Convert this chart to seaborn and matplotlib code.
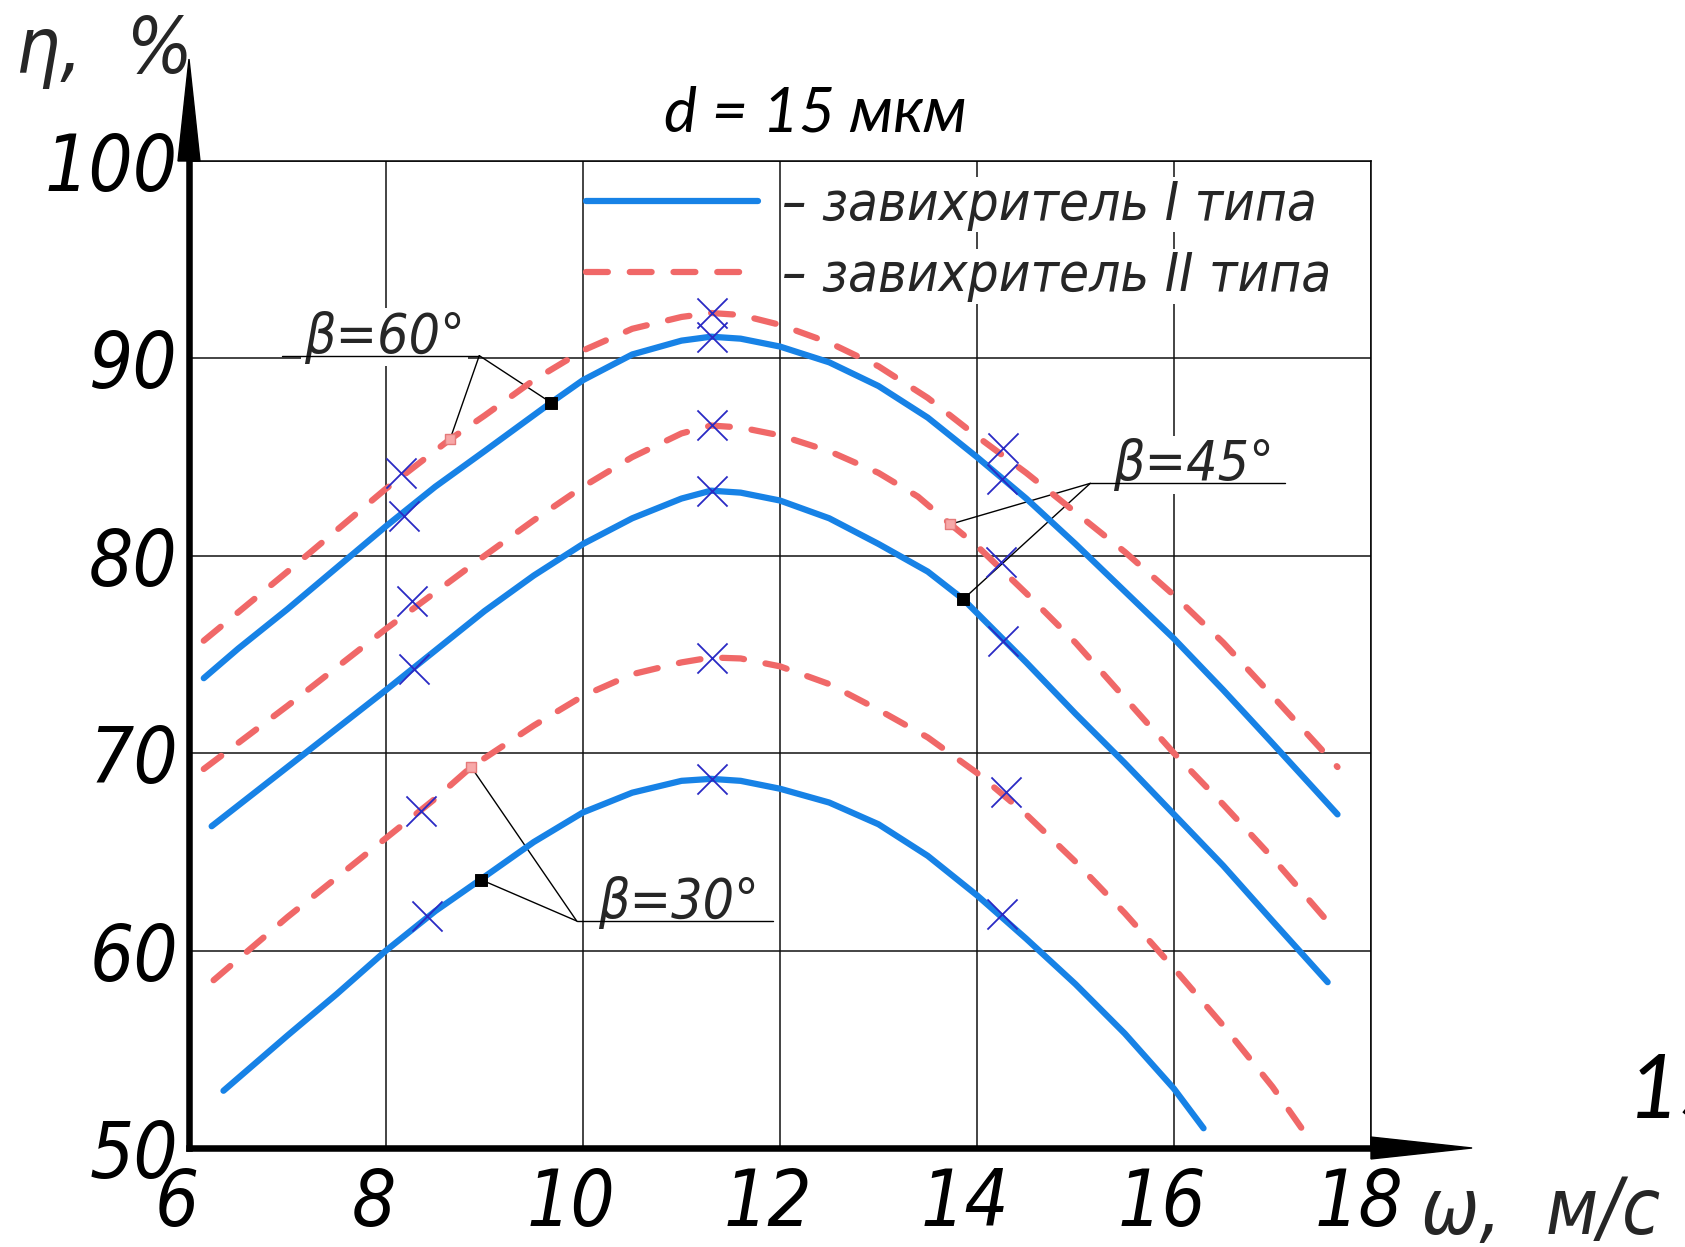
import matplotlib
matplotlib.use("Agg")
import matplotlib.pyplot as plt
import seaborn as sns
import pandas as pd
from matplotlib import font_manager as fm
from matplotlib.font_manager import FontProperties
from matplotlib.textpath import TextPath
from matplotlib.lines import Line2D
from matplotlib.patches import Polygon
from matplotlib.transforms import ScaledTranslation

# ---------------- data: efficiency vs. gas velocity ----------------
# swirler type I (solid) and type II (dashed), three blade angles each
w_60_I = [6.15, 6.5, 7.0, 7.5, 8.0, 8.5, 9.0, 9.675, 10.0, 10.5, 11.0, 11.3, 11.6, 12.0,
          12.5, 13.0, 13.5, 14.0, 14.5, 15.0, 15.5, 16.0, 16.5, 17.0, 17.66]
eta_60_I = [73.8, 75.3, 77.3, 79.4, 81.5, 83.5, 85.3, 87.76, 88.9, 90.2, 90.9, 91.1, 91.0, 90.6,
            89.8, 88.6, 87.0, 85.0, 82.9, 80.6, 78.2, 75.8, 73.2, 70.5, 66.9]

w_60_II = [6.15, 7.0, 8.0, 8.65, 9.0, 9.5, 10.0, 10.5, 11.0, 11.3, 11.6, 12.0, 12.5, 13.0,
           13.5, 14.0, 14.5, 15.0, 15.5, 16.0, 16.5, 17.0, 17.66]
eta_60_II = [75.7, 79.2, 83.4, 85.9, 87.1, 88.9, 90.4, 91.5, 92.1, 92.3, 92.2, 91.7, 90.8, 89.6,
             88.0, 86.05, 84.2, 82.2, 80.2, 78.0, 75.6, 72.9, 69.3]

w_45_I = [6.23, 7.0, 8.0, 9.0, 9.5, 10.0, 10.5, 11.0, 11.3, 11.6, 12.0, 12.5, 13.0, 13.5,
          13.86, 14.0, 14.5, 15.0, 15.5, 16.0, 16.5, 17.0, 17.56]
eta_45_I = [66.3, 69.3, 73.2, 77.2, 79.0, 80.6, 81.9, 82.9, 83.3, 83.2, 82.8, 81.9, 80.6, 79.2,
            77.8, 77.1, 74.6, 72.0, 69.5, 66.9, 64.3, 61.5, 58.4]

w_45_II = [6.15, 7.0, 8.0, 9.0, 9.5, 10.0, 10.5, 11.0, 11.3, 11.6, 12.0, 12.5, 13.0, 13.4,
           13.73, 14.0, 14.5, 15.0, 15.5, 16.0, 16.5, 17.0, 17.66]
eta_45_II = [69.2, 72.4, 76.3, 80.0, 81.8, 83.5, 85.0, 86.2, 86.6, 86.5, 86.1, 85.3, 84.2, 83.0,
             81.6, 80.5, 78.1, 75.6, 72.8, 70.0, 67.4, 64.7, 60.9]

w_30_I = [6.35, 7.0, 7.5, 8.0, 8.5, 8.96, 9.5, 10.0, 10.5, 11.0, 11.3, 11.6, 12.0, 12.5,
          13.0, 13.5, 14.0, 14.5, 15.0, 15.5, 16.0, 16.3]
eta_30_I = [52.9, 55.7, 57.8, 60.0, 62.0, 63.6, 65.5, 67.0, 68.0, 68.6, 68.7, 68.6, 68.2, 67.5,
            66.4, 64.8, 62.8, 60.6, 58.3, 55.8, 53.0, 51.0]

w_30_II = [6.25, 7.0, 7.5, 8.0, 8.5, 8.865, 9.5, 10.0, 10.5, 11.0, 11.3, 11.6, 12.0, 12.5,
           13.0, 13.5, 14.0, 14.5, 15.0, 15.5, 16.0, 16.5, 17.0, 17.31]
eta_30_II = [58.5, 61.7, 63.7, 65.7, 67.7, 69.3, 71.4, 72.9, 74.0, 74.6, 74.85, 74.8, 74.4, 73.5,
             72.2, 70.8, 69.0, 66.9, 64.5, 61.9, 59.1, 56.2, 53.1, 50.9]

# measured (experimental) points
exp_w = [8.15, 8.18, 8.26, 8.28, 8.36, 8.42,
         11.31, 11.31, 11.31, 11.31, 11.31, 11.31,
         14.26, 14.25, 14.24, 14.26, 14.29, 14.25]
exp_eta = [84.2, 82.0, 77.7, 74.26, 67.06, 61.73,
           92.31, 91.08, 86.62, 83.28, 74.84, 68.67,
           85.45, 83.87, 79.7, 75.66, 68.03, 61.85]

x_ticks = [6, 8, 10, 12, 14, 16, 18]
y_ticks = [50, 60, 70, 80, 90, 100]
legend_labels = ["– завихритель I типа", "– завихритель II типа"]
beta_labels = ["β=60°", "β=45°", "β=30°"]
title_text = "d = 15 мкм"

# ---------------- style ----------------
BLUE = "#1782e6"
RED = "#f06868"
CROSS = "#2a2ac4"

sns.set_style("white")
entries = fm.fontManager.ttflist


def pick_narrow_italic():
    """Prefer a narrow/condensed italic face with Cyrillic and Greek."""
    prefs = ["Liberation Sans Narrow", "Noto Sans", "DejaVu Sans", "Roboto", "Open Sans"]
    for fam in prefs:
        for f in entries:
            if (f.name == fam and f.style in ("italic", "oblique")
                    and (str(f.stretch) == "condensed" or "Narrow" in f.name)):
                return fam, str(f.stretch)
    for f in entries:
        tag = f.name + " " + f.fname
        if f.style in ("italic", "oblique") and ("Condensed" in tag or "Narrow" in tag):
            return f.name, str(f.stretch)
    return "DejaVu Sans", "normal"


narrow, stretch = pick_narrow_italic()
plt.rcParams["font.family"] = [narrow, "DejaVu Sans"]
plt.rcParams["font.style"] = "italic"
plt.rcParams["font.stretch"] = stretch
names = {f.name for f in entries}
geo = "Lato" if "Lato" in names else "DejaVu Sans"

# scale the drafting-style text so "100" keeps roughly its drawn width
probe = TextPath((0, 0), "100", size=58 * 100 / 72,
                 prop=FontProperties(family=[narrow, "DejaVu Sans"], style="italic", stretch=stretch))
k = min(1.05, 118 / probe.get_extents().width)
FS_TICK = 58 * k * 1.07
FS_LEG = 43.5 * k
FS_BETA = 44 * k
PX = 100 / 72  # pixels per point
LW = 4.5

fig = plt.figure(figsize=(16.85, 12.47), dpi=100)
ax = fig.add_axes([189 / 1685, 1 - 1148 / 1247, 1182 / 1685, 987 / 1247])

# ---------------- curves ----------------
curves = [("60", "I", w_60_I, eta_60_I), ("60", "II", w_60_II, eta_60_II),
          ("45", "I", w_45_I, eta_45_I), ("45", "II", w_45_II, eta_45_II),
          ("30", "I", w_30_I, eta_30_I), ("30", "II", w_30_II, eta_30_II)]
df = pd.concat([pd.DataFrame({"w": w, "eta": e, "beta": b + t, "type": t})
                for b, t, w, e in curves], ignore_index=True)

sns.lineplot(data=df, x="w", y="eta", hue="type", style="type", units="beta",
             estimator=None, sort=False, palette={"I": BLUE, "II": RED},
             dashes={"I": "", "II": (3.5, 3.5)}, linewidth=LW, legend=False,
             ax=ax, zorder=3)
for ln in ax.lines:
    ln.set_solid_capstyle("round")
    ln.set_solid_joinstyle("round")
    ln.set_dash_capstyle("round")
    ln.set_dash_joinstyle("round")

sns.scatterplot(x=exp_w, y=exp_eta, marker="x", s=470, color=CROSS,
                linewidth=1.3, ax=ax, zorder=4)

# ---------------- β call-outs ----------------
# points on the curves that the leaders point to
pts_I = [(w_60_I[7], eta_60_I[7]), (w_45_I[14], eta_45_I[14]), (w_30_I[5], eta_30_I[5])]
pts_II = [(w_60_II[3], eta_60_II[3]), (w_45_II[14], eta_45_II[14]), (w_30_II[5], eta_30_II[5])]
shelf_w = [(6.94, 8.947), (15.15, 17.13), (9.936, 11.925)]
shelf_eta = [90.14, 83.67, 61.5]
leader_w = [8.947, 15.15, 9.936]
text_w = [7.17, 15.38, 10.15]

for i, lab in enumerate(beta_labels):
    ax.text(text_w[i], shelf_eta[i] + 0.15, lab, fontsize=FS_BETA, ha="left", va="baseline",
            zorder=2.6, bbox=dict(facecolor="white", edgecolor="none", pad=2))
    ax.plot(shelf_w[i], [shelf_eta[i]] * 2, color="black", lw=1.0, zorder=2.7)
    for (px, py) in (pts_I[i], pts_II[i]):
        ax.annotate("", xy=(px, py), xytext=(leader_w[i], shelf_eta[i]),
                    arrowprops=dict(arrowstyle="-", lw=1.0, color="black",
                                    shrinkA=0, shrinkB=0), zorder=2.7)

sns.scatterplot(x=[p[0] for p in pts_I], y=[p[1] for p in pts_I], marker="s", s=70,
                color="black", edgecolor="black", ax=ax, zorder=5)
sns.scatterplot(x=[p[0] for p in pts_II], y=[p[1] for p in pts_II], marker="s", s=55,
                color="#f7a8a8", edgecolor="#e47a7a", linewidth=1, ax=ax, zorder=5)

# ---------------- axes, grid ----------------
ax.set_xlim(6, 18)
ax.set_ylim(50, 100)
ax.set_xticks(x_ticks, [str(v) for v in x_ticks])
ax.set_yticks(y_ticks, [str(v) for v in y_ticks])
ax.grid(True, color="#111111", lw=1.1)
ax.set_axisbelow(True)
ax.tick_params(length=0, labelsize=FS_TICK, colors="black")
ax.tick_params(axis="x", pad=13)
ax.tick_params(axis="y", pad=8)
for side in ("left", "bottom"):
    ax.spines[side].set_linewidth(4.7)
    ax.spines[side].set_color("black")
for side in ("top", "right"):
    ax.spines[side].set_linewidth(1.1)
    ax.spines[side].set_color("black")
    ax.spines[side].set_visible(True)

# arrow heads on the axes
ax.add_patch(Polygon([(-0.0093, 1.0), (0.0093, 1.0), (0.0, 1.1033)], closed=True,
                     transform=ax.transAxes, clip_on=False, color="black", zorder=6))
ax.add_patch(Polygon([(1.0, -0.0111), (1.0, 0.0111), (1.0855, 0.0)], closed=True,
                     transform=ax.transAxes, clip_on=False, color="black", zorder=6))

ax.set_xlabel("ω,  м/с", fontsize=FS_TICK, ha="left", va="baseline")
ax.xaxis.set_label_coords(1.0423, -0.0871)
ax.set_ylabel("η,  %", fontsize=FS_TICK, rotation=0, ha="left", va="baseline")
ax.yaxis.set_label_coords(-0.1464, 1.0892)

ax.set_title(title_text, fontsize=45, family=[geo, "DejaVu Sans"], style="italic",
             fontweight="normal", x=0.53, pad=21, color="black")

# ---------------- legend ----------------
handles = [Line2D([], [], color=BLUE, lw=LW, solid_capstyle="round"),
           Line2D([], [], color=RED, lw=LW, dashes=(3.5, 3.5), dash_capstyle="round")]
leg = ax.legend(handles, legend_labels, loc="upper left", bbox_to_anchor=(0.336, 0.982),
                frameon=False, fontsize=FS_LEG, handlelength=172 / (FS_LEG * PX),
                handletextpad=24 / (FS_LEG * PX), labelspacing=0.36,
                borderpad=0, borderaxespad=0)
for t in leg.get_texts():
    t.set_bbox(dict(facecolor="white", edgecolor="none", pad=1))

# page number at the right margin
fig.text(1628 / 1685, 1 - 1118 / 1247, "15", fontsize=64, family=[geo, "DejaVu Sans"],
         style="italic", fontweight="normal", ha="left", va="baseline", color="black")

# italic tick labels sit a little left of their grid lines
shift = ScaledTranslation(-12 / 100, 0, fig.dpi_scale_trans)
for lbl in ax.get_xticklabels():
    lbl.set_transform(lbl.get_transform() + shift)

fig.savefig("out.png", dpi=100)
